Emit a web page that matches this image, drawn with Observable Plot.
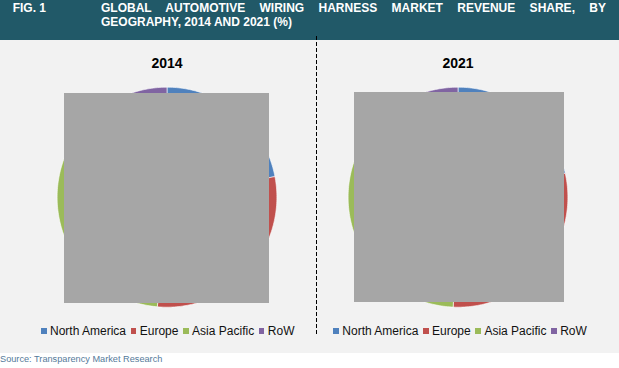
<!DOCTYPE html>
<html>
<head>
<meta charset="utf-8">
<script src="https://cdn.jsdelivr.net/npm/d3@7"></script>
<script src="https://cdn.jsdelivr.net/npm/@observablehq/plot@0.6"></script>
<style>
  html, body { margin: 0; padding: 0; background: #fff; }
  body { width: 619px; height: 368px; position: relative; overflow: hidden;
         font-family: "Liberation Sans", Arial, sans-serif; }
  #header { position: absolute; left: 0; top: 0; width: 619px; height: 40px; background: #215968; color: #fff;
            font-weight: bold; font-size: 12px; line-height: 14px; }
  #fig { position: absolute; left: 12.7px; top: 1px; }
  #title { position: absolute; left: 101px; top: 1px; width: 505px; text-align: justify; }
  #chart { position: absolute; left: 0; top: 40px; width: 619px; height: 313px; background: #f2f2f2; }
  #chart svg { position: absolute; left: 0; top: 0; }
  .cover { position: absolute; background: #a6a6a6; }
  .legend { position: absolute; top: 284px; font-size: 12px; line-height: 14px; color: #111; white-space: nowrap; }
  .legend .sw { display: inline-block; width: 5.5px; height: 5.5px; margin-right: 3.5px; margin-bottom: 1.3px; vertical-align: baseline; }
  .legend .it { margin-right: 4.7px; }
  #divider { position: absolute; left: 316px; top: 36px; width: 1.4px; height: 299px; z-index: 5;
             background: repeating-linear-gradient(to bottom, #000 0 4px, transparent 4px 6px); }
  #source { position: absolute; left: 0; top: 354.3px; font-size: 9.2px; line-height: 11px; color: #557a9a; }
</style>
</head>
<body>
<div id="header">
  <div id="fig">FIG. 1</div>
  <div id="title">GLOBAL AUTOMOTIVE WIRING HARNESS MARKET REVENUE SHARE, BY GEOGRAPHY, 2014 AND 2021 (%)</div>
</div>
<div id="chart"></div>
<div id="divider"></div>
<div id="source">Source: Transparency Market Research</div>
<script>
// ---- data ----
const years = ["2014", "2021"];
const regions = ["North America", "Europe", "Asia Pacific", "RoW"];
const share2014 = [22.0, 29.4, 38.6, 10.0];
const share2021 = [21.5, 29.2, 40.0, 9.3];
const colors = ["#4f81bd", "#c0504d", "#9bbb59", "#8064a2"];

// ---- build slice outlines (angles derived from shares) ----
const sharesByYear = { "2014": share2014, "2021": share2021 };
const sliceRows = [];
for (const year of years) {
  const vals = sharesByYear[year];
  const total = d3.sum(vals);
  let start = 0;
  vals.forEach((v, i) => {
    const a0 = start / total * 2 * Math.PI;
    const a1 = (start + v) / total * 2 * Math.PI;
    start += v;
    const key = year + "|" + regions[i];
    sliceRows.push({ year, region: regions[i], key, x: 0, y: 0 });
    const n = Math.max(2, Math.ceil((a1 - a0) / (Math.PI / 180)));
    for (let k = 0; k <= n; k++) {
      const a = a0 + (a1 - a0) * k / n;
      sliceRows.push({ year, region: regions[i], key, x: Math.sin(a), y: Math.cos(a) });
    }
    sliceRows.push({ year, region: regions[i], key, x: 0, y: 0 });
  });
}

const W = 619, H = 313;
const mL = 21, mR = 15.4, mT = 46.7, mB = 46.3;
const panelW = (W - mL - mR) / 2;
const unit = (H - mT - mB) / 2;
const k = panelW / 2 / unit;

const chart = Plot.plot({
  width: W, height: H,
  marginLeft: mL, marginRight: mR, marginTop: mT, marginBottom: mB,
  style: { background: "transparent", fontFamily: "'Liberation Sans', Arial, sans-serif" },
  fx: { domain: years, padding: 0, axis: null },
  x: { domain: [-k, k], axis: null },
  y: { domain: [-1, 1], axis: null },
  color: { domain: regions, range: colors },
  marks: [
    Plot.line(sliceRows, { fx: "year", x: "x", y: "y", z: "key", fill: "region", stroke: "#ffffff", strokeWidth: 0.6, curve: "linear" }),
    Plot.axisFx({ anchor: "top", tickSize: 0, tickPadding: 19, label: null, fontSize: 14, fontWeight: "bold", fill: "#000" })
  ]
});
const host = document.getElementById("chart");
host.appendChild(chart);

// overlay blocks as they appear in the reference
[[64, 53, 205, 209.7], [354, 52, 210, 209.7]].forEach(([l, t, w, h]) => {
  const d = document.createElement("div");
  d.className = "cover";
  Object.assign(d.style, { left: l + "px", top: t + "px", width: w + "px", height: h + "px" });
  host.appendChild(d);
});

// legends
[41, 333.3].forEach(left => {
  const lg = document.createElement("div");
  lg.className = "legend";
  lg.style.left = left + "px";
  regions.forEach((r, i) => {
    const sw = document.createElement("span");
    sw.className = "sw";
    sw.style.background = colors[i];
    const t = document.createElement("span");
    t.className = "it";
    t.textContent = r;
    lg.appendChild(sw);
    lg.appendChild(t);
  });
  host.appendChild(lg);
});
</script>
</body>
</html>
